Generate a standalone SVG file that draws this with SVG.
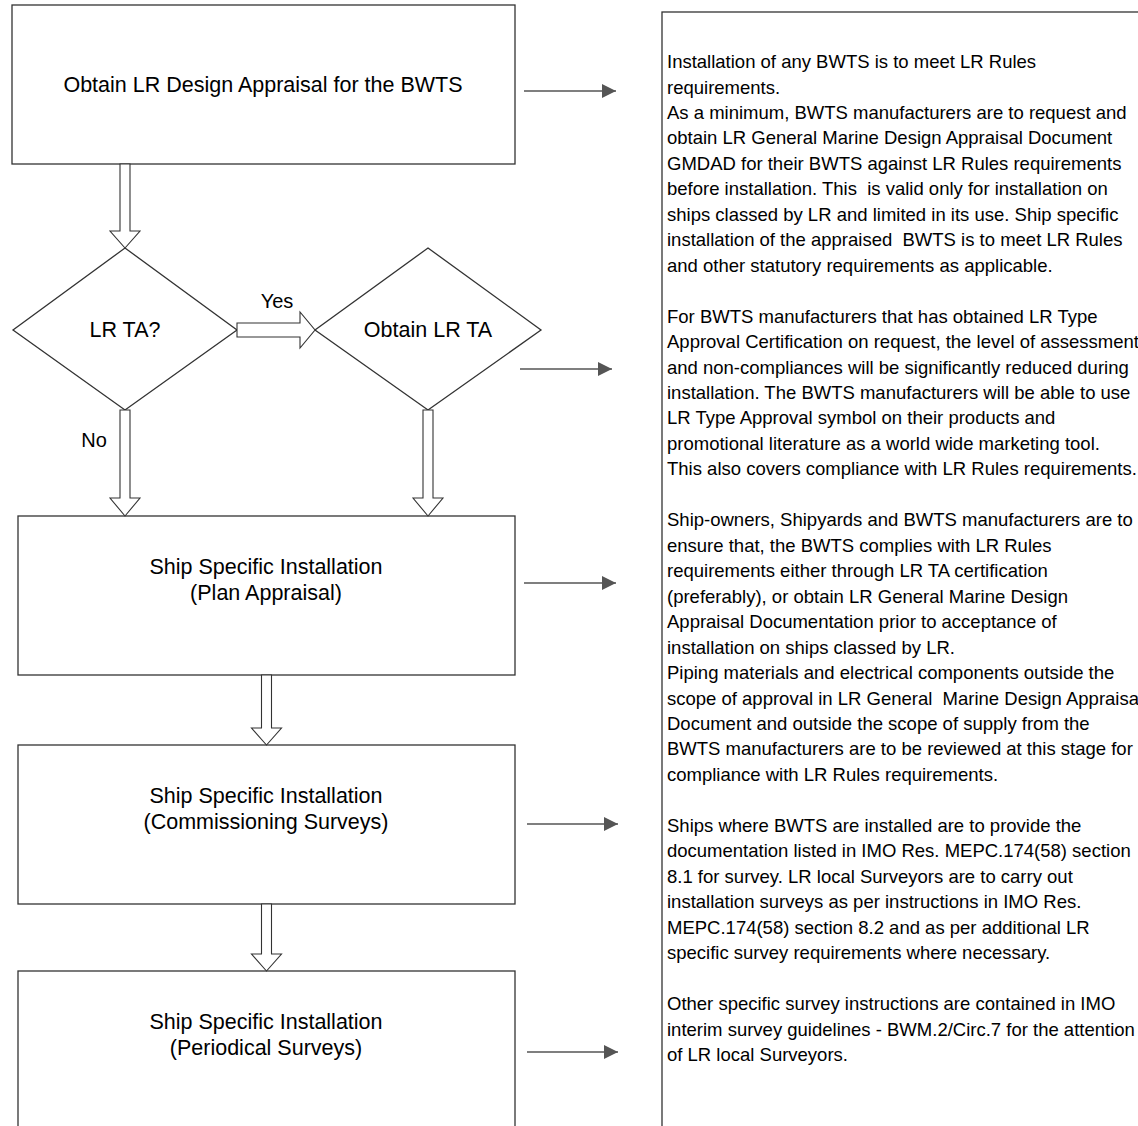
<svg xmlns="http://www.w3.org/2000/svg" width="1138" height="1126" viewBox="0 0 1138 1126">
<defs>
<style>
.box{fill:#fff;stroke:#333;stroke-width:1.3}
.lbl{font-family:"Liberation Sans",Arial,sans-serif;font-size:21.5px;fill:#000;text-anchor:middle}
.sm{font-family:"Liberation Sans",Arial,sans-serif;font-size:20px;fill:#000;text-anchor:middle}
.blk{fill:#fff;stroke:#333;stroke-width:1.1}
.ln{stroke:#555;stroke-width:1.6;fill:none}
.panel{font-family:"Liberation Sans",Arial,sans-serif;font-size:18.5px;fill:#000}
</style>
<marker id="ah" viewBox="0 0 14 14" refX="14" refY="7" markerWidth="14" markerHeight="14" markerUnits="userSpaceOnUse" orient="auto">
<path d="M0,0 L14,7 L0,14 Z" fill="#555"/>
</marker>
</defs>
<rect width="1138" height="1126" fill="#fff"/>

<g id="node-design-appraisal">
<rect class="box" x="12" y="5" width="503" height="159"/>
<text class="lbl" x="263" y="92">Obtain LR Design Appraisal for the BWTS</text>
</g>

<g id="node-lr-ta">
<polygon class="box" points="125,248 237,330 125,410 13,330"/>
<text class="lbl" x="125" y="337">LR TA?</text>
</g>

<g id="node-obtain-lr-ta">
<polygon class="box" points="428,248 541,330 428,410 315,330"/>
<text class="lbl" x="428" y="337">Obtain LR TA</text>
</g>

<g id="node-plan-appraisal">
<rect class="box" x="18" y="516" width="497" height="159"/>
<text class="lbl" x="266" y="574">Ship Specific Installation</text>
<text class="lbl" x="266" y="600">(Plan Appraisal)</text>
</g>

<g id="node-commissioning">
<rect class="box" x="18" y="745" width="497" height="159"/>
<text class="lbl" x="266" y="803">Ship Specific Installation</text>
<text class="lbl" x="266" y="829">(Commissioning Surveys)</text>
</g>

<g id="node-periodical">
<rect class="box" x="18" y="971" width="497" height="200"/>
<text class="lbl" x="266" y="1029">Ship Specific Installation</text>
<text class="lbl" x="266" y="1055">(Periodical Surveys)</text>
</g>

<g id="node-notes">
<rect class="box" x="662" y="12" width="600" height="1200"/>
<text class="panel" xml:space="preserve">
<tspan x="667" y="68">Installation of any BWTS is to meet LR Rules</tspan>
<tspan x="667" y="93.5">requirements.</tspan>
<tspan x="667" y="118.9">As a minimum, BWTS manufacturers are to request and</tspan>
<tspan x="667" y="144.4">obtain LR General Marine Design Appraisal Document</tspan>
<tspan x="667" y="169.8">GMDAD for their BWTS against LR Rules requirements</tspan>
<tspan x="667" y="195.3">before installation. This  is valid only for installation on</tspan>
<tspan x="667" y="220.8">ships classed by LR and limited in its use. Ship specific</tspan>
<tspan x="667" y="246.2">installation of the appraised  BWTS is to meet LR Rules</tspan>
<tspan x="667" y="271.7">and other statutory requirements as applicable.</tspan>
<tspan x="667" y="322.6">For BWTS manufacturers that has obtained LR Type</tspan>
<tspan x="667" y="348.1">Approval Certification on request, the level of assessment</tspan>
<tspan x="667" y="373.5">and non-compliances will be significantly reduced during</tspan>
<tspan x="667" y="399">installation. The BWTS manufacturers will be able to use</tspan>
<tspan x="667" y="424.4">LR Type Approval symbol on their products and</tspan>
<tspan x="667" y="449.9">promotional literature as a world wide marketing tool.</tspan>
<tspan x="667" y="475.4">This also covers compliance with LR Rules requirements.</tspan>
<tspan x="667" y="526.3">Ship-owners, Shipyards and BWTS manufacturers are to</tspan>
<tspan x="667" y="551.7">ensure that, the BWTS complies with LR Rules</tspan>
<tspan x="667" y="577.2">requirements either through LR TA certification</tspan>
<tspan x="667" y="602.7">(preferably), or obtain LR General Marine Design</tspan>
<tspan x="667" y="628.1">Appraisal Documentation prior to acceptance of</tspan>
<tspan x="667" y="653.6">installation on ships classed by LR.</tspan>
<tspan x="667" y="679">Piping materials and electrical components outside the</tspan>
<tspan x="667" y="704.5">scope of approval in LR General  Marine Design Appraisal</tspan>
<tspan x="667" y="730">Document and outside the scope of supply from the</tspan>
<tspan x="667" y="755.4">BWTS manufacturers are to be reviewed at this stage for</tspan>
<tspan x="667" y="780.9">compliance with LR Rules requirements.</tspan>
<tspan x="667" y="831.8">Ships where BWTS are installed are to provide the</tspan>
<tspan x="667" y="857.3">documentation listed in IMO Res. MEPC.174(58) section</tspan>
<tspan x="667" y="882.7">8.1 for survey. LR local Surveyors are to carry out</tspan>
<tspan x="667" y="908.2">installation surveys as per instructions in IMO Res.</tspan>
<tspan x="667" y="933.6">MEPC.174(58) section 8.2 and as per additional LR</tspan>
<tspan x="667" y="959.1">specific survey requirements where necessary.</tspan>
<tspan x="667" y="1010">Other specific survey instructions are contained in IMO</tspan>
<tspan x="667" y="1035.5">interim survey guidelines - BWM.2/Circ.7 for the attention</tspan>
<tspan x="667" y="1060.9">of LR local Surveyors.</tspan>
</text>
</g>

<g id="connectors">
<polygon class="blk" points="120,164 130,164 130,231 140,231 125,248 110,231 120,231"/>
<polygon class="blk" points="237,323 300,323 300,312 315,330 300,348 300,337 237,337"/>
<text class="sm" x="277" y="308">Yes</text>
<polygon class="blk" points="120,410 130,410 130,498 140,498 125,516 110,498 120,498"/>
<text class="sm" x="94" y="447">No</text>
<polygon class="blk" points="423,410 433,410 433,498 443,498 428,516 413,498 423,498"/>
<polygon class="blk" points="261.5,675 271.5,675 271.5,728 281.5,728 266.5,745 251.5,728 261.5,728"/>
<polygon class="blk" points="261.5,904 271.5,904 271.5,954 281.5,954 266.5,971 251.5,954 261.5,954"/>
<line class="ln" x1="524" y1="91" x2="616" y2="91" marker-end="url(#ah)"/>
<line class="ln" x1="520" y1="369" x2="612" y2="369" marker-end="url(#ah)"/>
<line class="ln" x1="524" y1="583" x2="616" y2="583" marker-end="url(#ah)"/>
<line class="ln" x1="527" y1="824" x2="618" y2="824" marker-end="url(#ah)"/>
<line class="ln" x1="527" y1="1052" x2="618" y2="1052" marker-end="url(#ah)"/>
</g>
</svg>
